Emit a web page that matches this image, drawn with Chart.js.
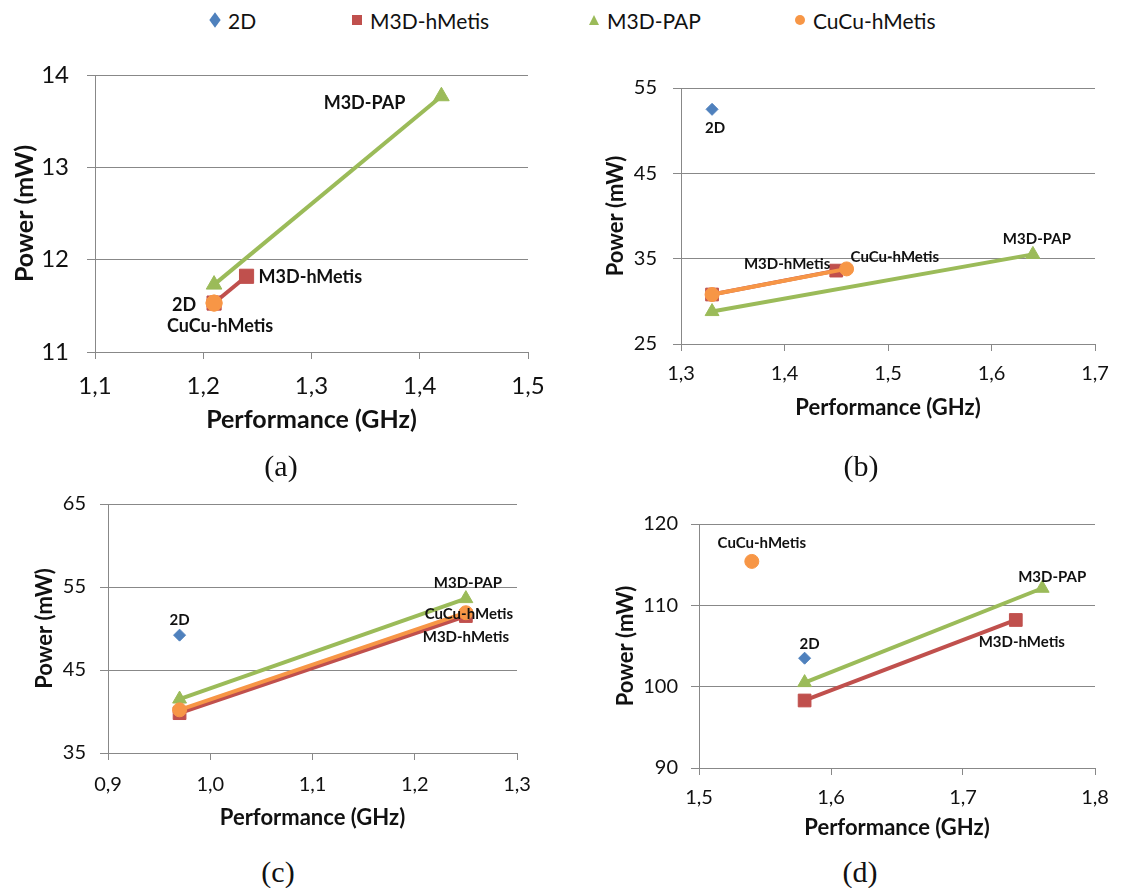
<!DOCTYPE html>
<html><head><meta charset="utf-8">
<script src="https://cdn.jsdelivr.net/npm/chart.js@4.4.0/dist/chart.umd.min.js"></script>
<style>
body{margin:0;width:1123px;height:888px;background:#fff;position:relative;overflow:hidden;font-family:Lato,sans-serif}
canvas{position:absolute}
.cap{position:absolute;font-family:"Liberation Serif",serif;font-size:30px;color:#111;transform:translate(-50%,-50%);white-space:nowrap}
.lg{position:absolute;font-family:Lato,sans-serif;font-size:21px;color:#111;transform:translateY(-50%);white-space:nowrap}
.mk{position:absolute}
</style></head><body>
<canvas id="ca"></canvas><canvas id="cb"></canvas><canvas id="cc"></canvas><canvas id="cd"></canvas>
<div id="legend"></div>
<div class="cap" style="left:281px;top:466px">(a)</div>
<div class="cap" style="left:861px;top:466px">(b)</div>
<div class="cap" style="left:278px;top:872px">(c)</div>
<div class="cap" style="left:860px;top:872px">(d)</div>
<script>
// ---- data ----
const seriesNames = ['2D','M3D-hMetis','M3D-PAP','CuCu-hMetis'];
const seriesColors = ['#4F81BD','#C0504D','#9BBB59','#F79646'];

// (a)
const aX2D=[1.21], aY2D=[11.53];
const aXhMetis=[1.21,1.24], aYhMetis=[11.53,11.82];
const aXPAP=[1.21,1.42], aYPAP=[11.73,13.77];
const aXCuCu=[1.21,1.21], aYCuCu=[11.53,11.53];
const aXTicks=[1.1,1.2,1.3,1.4,1.5], aYTicks=[11,12,13,14];
// (b)
const bX2D=[1.33], bY2D=[52.5];
const bXhMetis=[1.33,1.45], bYhMetis=[30.8,33.6];
const bXPAP=[1.33,1.64], bYPAP=[28.8,35.5];
const bXCuCu=[1.33,1.46], bYCuCu=[30.8,33.8];
const bXTicks=[1.3,1.4,1.5,1.6,1.7], bYTicks=[25,35,45,55];
// (c)
const cX2D=[0.97], cY2D=[49.2];
const cXhMetis=[0.97,1.25], cYhMetis=[39.8,51.5];
const cXPAP=[0.97,1.25], cYPAP=[41.5,53.6];
const cXCuCu=[0.97,1.25], cYCuCu=[40.2,51.9];
const cXTicks=[0.9,1.0,1.1,1.2,1.3], cYTicks=[35,45,55,65];
// (d)
const dX2D=[1.58], dY2D=[103.5];
const dXhMetis=[1.58,1.74], dYhMetis=[98.3,108.2];
const dXPAP=[1.58,1.76], dYPAP=[100.5,112.1];
const dXCuCu=[1.54], dYCuCu=[115.4];
const dXTicks=[1.5,1.6,1.7,1.8], dYTicks=[90,100,110,120];

// ---- styling / layout ----
const fmt = v => v.toFixed(1).replace('.', ',');
const fmtY = v => String(Math.round(v));
const GRID = '#888888';

function pts(xs, ys){ return xs.map((x,i)=>({x:x,y:ys[i]})); }

const labelPlugin = {
  id:'ptLabels',
  afterDatasetsDraw(chart){
    const specs = chart.options.plugins.ptLabels.specs || [];
    const size = chart.options.plugins.ptLabels.size;
    const ctx = chart.ctx;
    ctx.save();
    ctx.font = 'bold '+size+'px Lato, sans-serif';
    ctx.fillStyle = '#111';
    ctx.textBaseline = 'middle';
    specs.forEach(s=>{
      const el = chart.getDatasetMeta(s.ds).data[s.i];
      if(!el) return;
      ctx.textAlign = s.align;
      ctx.fillText(seriesNames[s.ds], el.x + s.dx, el.y + s.dy);
    });
    ctx.restore();
  }
};

function makeChart(id, cfg){
  const cv = document.getElementById(id);
  cv.style.left = cfg.cx+'px'; cv.style.top = cfg.cy+'px';
  cv.width = cfg.cw; cv.height = cfg.ch;
  cv.style.width = cfg.cw+'px'; cv.style.height = cfg.ch+'px';
  const P = cfg.plot; // [L,T,R,B] page coords
  const ds = cfg.series.map((s,k)=>({
    label: seriesNames[k],
    data: pts(s[0], s[1]),
    showLine: k>0,
    borderColor: seriesColors[k],
    backgroundColor: seriesColors[k],
    pointBackgroundColor: seriesColors[k],
    pointBorderColor: seriesColors[k],
    pointBorderWidth: 1,
    borderWidth: 4,
    pointStyle: ['rectRot','rect','triangle','circle'][k],
    pointRadius: cfg.pr[k],
    order: 3-k
  }));
  return new Chart(cv, {
    type:'scatter',
    data:{datasets:ds},
    plugins:[labelPlugin],
    options:{
      responsive:false, animation:false, devicePixelRatio:1,
      layout:{padding:{top:P[1]-cfg.cy, right:cfg.cx+cfg.cw-P[2], left:0, bottom:0}},
      plugins:{legend:{display:false}, tooltip:{enabled:false},
        ptLabels:{specs:cfg.labels, size:cfg.lfs}},
      scales:{
        x:{type:'linear', min:cfg.xt[0], max:cfg.xt[cfg.xt.length-1],
          afterBuildTicks: sc=>{ sc.ticks = cfg.xt.map(v=>({value:v})); },
          afterFit: sc=>{ sc.height = cfg.cy+cfg.ch-P[3]; },
          grid:{drawOnChartArea:false, drawTicks:true, tickLength:7, color:GRID, lineWidth:1},
          border:{display:true, color:GRID, width:1},
          ticks:{callback:v=>fmt(v), font:{family:'Lato', size:cfg.tfs}, color:'#111', padding:cfg.xpad, maxRotation:0, autoSkip:false},
          title:{display:true, text:'Performance (GHz)', color:'#111', font:{family:'Lato', size:cfg.titfs, weight:'bold'}, padding:{top:0,bottom:cfg.xtitpad}}
        },
        y:{type:'linear', min:cfg.yt[0], max:cfg.yt[cfg.yt.length-1],
          afterBuildTicks: sc=>{ sc.ticks = cfg.yt.map(v=>({value:v})); },
          afterFit: sc=>{ sc.width = P[0]-cfg.cx; },
          grid:{drawOnChartArea:true, drawTicks:true, tickLength:8, color:GRID, lineWidth:1},
          border:{display:true, color:GRID, width:1},
          ticks:{callback:v=>fmtY(v), font:{family:'Lato', size:cfg.tfs}, color:'#111', padding:cfg.ypad, autoSkip:false},
          title:{display:true, text:'Power (mW)', color:'#111', font:{family:'Lato', size:cfg.titfs, weight:'bold'}, padding:{top:cfg.ytitpad,bottom:0}}
        }
      }
    }
  });
}

makeChart('ca', {cx:0, cy:40, cw:560, ch:410, plot:[95,75,528,352],
  series:[[aX2D,aY2D],[aXhMetis,aYhMetis],[aXPAP,aYPAP],[aXCuCu,aYCuCu]],
  xt:aXTicks, yt:aYTicks, pr:[6,10,9,8], tfs:24, titfs:25, lfs:18,
  xpad:13, ypad:18, xtitpad:15, ytitpad:10,
  labels:[{ds:2,i:1,dx:-36,dy:7,align:'right'},{ds:1,i:1,dx:12,dy:1,align:'left'},
          {ds:0,i:0,dx:-18,dy:2,align:'right'},{ds:3,i:0,dx:6,dy:23,align:'center'}]});

makeChart('cb', {cx:560, cy:40, cw:563, ch:410, plot:[681,88,1095,344],
  series:[[bX2D,bY2D],[bXhMetis,bYhMetis],[bXPAP,bYPAP],[bXCuCu,bYCuCu]],
  xt:bXTicks, yt:bYTicks, pr:[6,9,8,7], tfs:20, titfs:22, lfs:15,
  xpad:11, ypad:16, xtitpad:29, ytitpad:43,
  labels:[{ds:0,i:0,dx:3,dy:19,align:'center'},{ds:1,i:1,dx:-6,dy:-6,align:'right'},
          {ds:3,i:1,dx:4,dy:-12,align:'left'},{ds:2,i:1,dx:4,dy:-15,align:'center'}]});

makeChart('cc', {cx:0, cy:470, cw:560, ch:380, plot:[108,504,517,753],
  series:[[cX2D,cY2D],[cXhMetis,cYhMetis],[cXPAP,cYPAP],[cXCuCu,cYCuCu]],
  xt:cXTicks, yt:cYTicks, pr:[6,9,8,7], tfs:20, titfs:22, lfs:15,
  xpad:13, ypad:14, xtitpad:19, ytitpad:32,
  labels:[{ds:0,i:0,dx:0,dy:-15,align:'center'},{ds:2,i:1,dx:2,dy:-15,align:'center'},
          {ds:3,i:1,dx:3,dy:1,align:'center'},{ds:1,i:1,dx:0,dy:21,align:'center'}]});

makeChart('cd', {cx:560, cy:470, cw:563, ch:380, plot:[699,524,1095,768],
  series:[[dX2D,dY2D],[dXhMetis,dYhMetis],[dXPAP,dYPAP],[dXCuCu,dYCuCu]],
  xt:dXTicks, yt:dYTicks, pr:[6,9,8,7], tfs:20, titfs:22, lfs:15,
  xpad:11, ypad:13, xtitpad:9, ytitpad:53,
  labels:[{ds:3,i:0,dx:10,dy:-18,align:'center'},{ds:0,i:0,dx:5,dy:-14,align:'center'},
          {ds:2,i:1,dx:10,dy:-11,align:'center'},{ds:1,i:1,dx:6,dy:22,align:'center'}]});

// ---- legend ----
const legendPos = [[215,228],[357,370],[594,607],[800,813]];
const lg = document.getElementById('legend');
const LY = 20;
seriesNames.forEach((n,k)=>{
  const [mx,tx] = legendPos[k];
  const m = document.createElement('div'); m.className='mk';
  const c = seriesColors[k];
  if(k===0){ m.style.cssText=`left:${mx-4}px;top:${LY-4}px;width:8px;height:8px;background:${c};transform:scaleY(1.35) rotate(45deg)`; }
  else if(k===1){ m.style.cssText=`left:${mx-5}px;top:${LY-5}px;width:10px;height:10px;background:${c}`; }
  else if(k===2){ m.style.cssText=`left:${mx-5}px;top:${LY-5}px;width:0;height:0;border-left:5px solid transparent;border-right:5px solid transparent;border-bottom:10px solid ${c}`; }
  else { m.style.cssText=`left:${mx-5}px;top:${LY-5}px;width:10px;height:10px;border-radius:50%;background:${c}`; }
  lg.appendChild(m);
  const t = document.createElement('div'); t.className='lg';
  t.style.left = tx+'px'; t.style.top = LY+'px'; t.textContent = n;
  lg.appendChild(t);
});
</script>
</body></html>
